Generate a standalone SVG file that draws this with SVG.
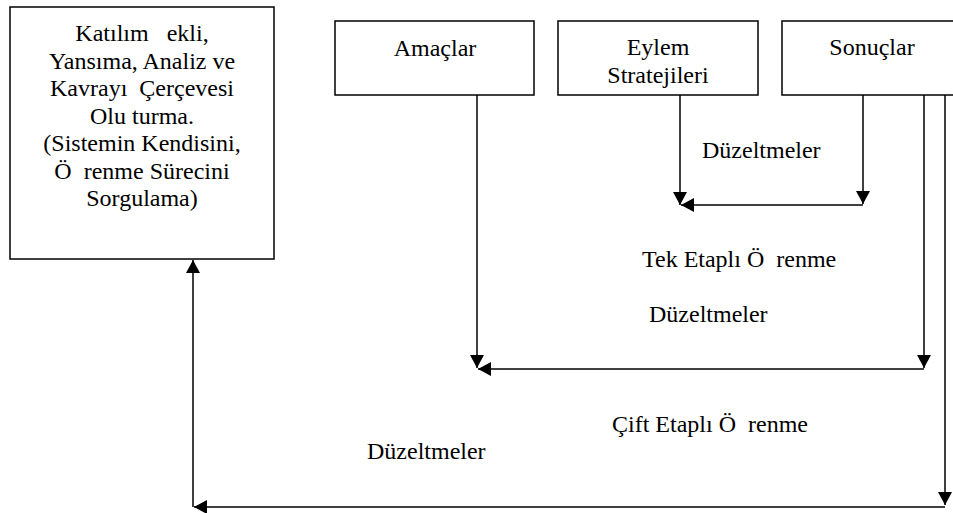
<svg xmlns="http://www.w3.org/2000/svg" width="953" height="513" viewBox="0 0 953 513">
<style>
.box{fill:#fff;stroke:#000;stroke-width:1.5}
.t{font-family:"Liberation Serif","Times New Roman","DejaVu Serif",serif;font-size:24px;fill:#000;white-space:pre}
.c{text-anchor:middle}
.ln{fill:none;stroke:#000;stroke-width:1.5}
</style>
<defs>
<marker id="ah" markerUnits="userSpaceOnUse" markerWidth="14" markerHeight="14" refX="13" refY="7" orient="auto">
<path d="M0,0 L13,7 L0,14 z" fill="#000"/>
</marker>
</defs>
<rect width="953" height="513" fill="#fff"/>
<g id="n-katilim">
<rect class="box" x="10" y="7" width="264" height="252"/>
<text class="t c" x="142" y="41">Katılım   ekli,</text>
<text class="t c" x="142" y="69">Yansıma, Analiz ve</text>
<text class="t c" x="142" y="96">Kavrayı  Çerçevesi</text>
<text class="t c" x="142" y="124">Olu turma.</text>
<text class="t c" x="142" y="151">(Sistemin Kendisini,</text>
<text class="t c" x="142" y="179">Ö  renme Sürecini</text>
<text class="t c" x="142" y="206">Sorgulama)</text>
</g>
<g id="n-amaclar">
<rect class="box" x="335" y="21" width="199" height="74"/>
<text class="t c" x="435" y="56">Amaçlar</text>
</g>
<g id="n-eylem">
<rect class="box" x="558" y="21" width="200" height="74"/>
<text class="t c" x="658" y="55">Eylem</text>
<text class="t c" x="658" y="83">Stratejileri</text>
</g>
<g id="n-sonuclar">
<rect class="box" x="782" y="21" width="181" height="74"/>
<text class="t c" x="872" y="55">Sonuçlar</text>
</g>
<g id="labels">
<text class="t" x="702" y="158">Düzeltmeler</text>
<text class="t" x="642" y="267">Tek Etaplı Ö  renme</text>
<text class="t" x="649" y="322">Düzeltmeler</text>
<text class="t" x="612" y="432">Çift Etaplı Ö  renme</text>
<text class="t" x="367" y="459">Düzeltmeler</text>
</g>
<g id="connectors">
<path class="ln" d="M680,95 V205" marker-end="url(#ah)"/>
<path class="ln" d="M863,95 V204" marker-end="url(#ah)"/>
<path class="ln" d="M863,205 H681" marker-end="url(#ah)"/>
<path class="ln" d="M477,95 V368" marker-end="url(#ah)"/>
<path class="ln" d="M924,95 V368" marker-end="url(#ah)"/>
<path class="ln" d="M924,369 H478" marker-end="url(#ah)"/>
<path class="ln" d="M945,95 V505" marker-end="url(#ah)"/>
<path class="ln" d="M945,507 H194" marker-end="url(#ah)"/>
<path class="ln" d="M193,507 V260" marker-end="url(#ah)"/>
</g>
</svg>
